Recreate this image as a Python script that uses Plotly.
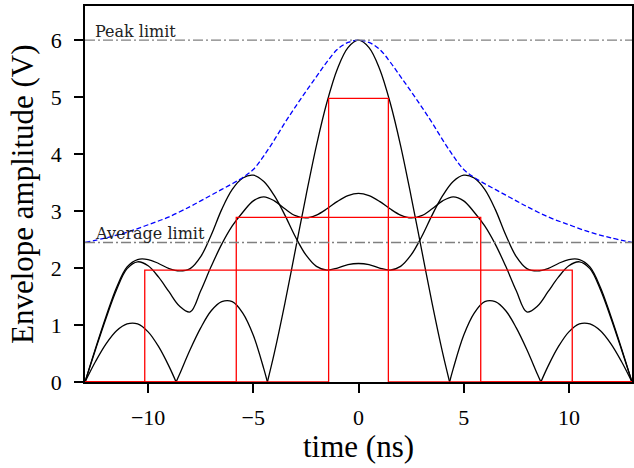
import plotly.graph_objects as go

# ---------------- data ----------------
time_grid = [-13.0, -12.5, -12.0, -11.5, -11.0, -10.5, -10.0, -9.5, -9.0, -8.5,
             -8.0, -7.5, -7.0, -6.5, -6.0, -5.5, -5.0, -4.5, -4.0, -3.5,
             -3.0, -2.5, -2.0, -1.5, -1.0, -0.5, 0.0, 0.5, 1.0, 1.5,
             2.0, 2.5, 3.0, 3.5, 4.0, 4.5, 5.0, 5.5, 6.0, 6.5,
             7.0, 7.5, 8.0, 8.5, 9.0, 9.5, 10.0, 10.5, 11.0, 11.5,
             12.0, 12.5, 13.0]

env_b = [0.0, 0.59, 1.15, 1.66, 2.02, 2.15, 2.15, 2.08, 1.99, 1.95,
         1.99, 2.20, 2.58, 3.03, 3.38, 3.58, 3.63, 3.52, 3.27, 2.93,
         2.55, 2.23, 2.03, 1.965, 2.00, 2.06, 2.08, 2.06, 2.00, 1.965,
         2.03, 2.23, 2.55, 2.93, 3.27, 3.52, 3.63, 3.58, 3.38, 3.03,
         2.58, 2.20, 1.99, 1.95, 1.99, 2.08, 2.15, 2.15, 2.02, 1.66,
         1.15, 0.59, 0.0]

env_c = [0.0, 0.57, 1.12, 1.62, 1.99, 2.11, 2.04, 1.84, 1.58, 1.33,
         1.23, 1.60, 2.03, 2.42, 2.74, 2.98, 3.18, 3.25, 3.18, 3.04,
         2.92, 2.88, 2.93, 3.04, 3.17, 3.27, 3.31, 3.27, 3.17, 3.04,
         2.93, 2.88, 2.92, 3.04, 3.18, 3.25, 3.18, 2.98, 2.74, 2.42,
         2.03, 1.60, 1.23, 1.33, 1.58, 1.84, 2.04, 2.11, 1.99, 1.62,
         1.12, 0.57, 0.0]

# in-phase envelope, lobes separated at its zeros (None = break)
env_a_time = [-13.0, -12.5, -12.0, -11.5, -11.0, -10.5, -10.0, -9.5, -9.0, -8.67, None,
              -8.67, -8.5, -8.0, -7.5, -7.0, -6.5, -6.0, -5.5, -5.0, -4.5, -4.33, None,
              -4.33, -4.0, -3.5, -3.0, -2.5, -2.0, -1.5, -1.0, -0.5, 0.0,
              0.5, 1.0, 1.5, 2.0, 2.5, 3.0, 3.5, 4.0, 4.33, None,
              4.33, 4.5, 5.0, 5.5, 6.0, 6.5, 7.0, 7.5, 8.0, 8.5, 8.67, None,
              8.67, 9.0, 9.5, 10.0, 10.5, 11.0, 11.5, 12.0, 12.5, 13.0]
env_a = [0.0, 0.36, 0.67, 0.90, 1.02, 1.02, 0.88, 0.62, 0.27, 0.0, None,
         0.0, 0.14, 0.57, 0.95, 1.25, 1.41, 1.41, 1.21, 0.82, 0.23, 0.0, None,
         0.0, 0.51, 1.38, 2.32, 3.26, 4.15, 4.91, 5.50, 5.87, 6.00,
         5.87, 5.50, 4.91, 4.15, 3.26, 2.32, 1.38, 0.51, 0.0, None,
         0.0, 0.23, 0.82, 1.21, 1.41, 1.41, 1.25, 0.95, 0.57, 0.14, 0.0, None,
         0.0, 0.27, 0.62, 0.88, 1.02, 1.02, 0.90, 0.67, 0.36, 0.0]

bound_time = [-13.0, -12.0, -11.0, -10.0, -9.0, -8.0, -7.5, -7.0, -6.5, -6.0,
              -5.5, -5.0, -4.5, -4.0, -3.5, -3.0, -2.5, -2.0, -1.5, -1.0,
              -0.5, 0.0, 0.5, 1.0, 1.5, 2.0, 2.5, 3.0, 3.5, 4.0,
              4.5, 5.0, 5.5, 6.0, 6.5, 7.0, 7.5, 8.0, 9.0, 10.0,
              11.0, 12.0, 13.0]
bound_env = [2.45, 2.53, 2.63, 2.76, 2.90, 3.08, 3.18, 3.28, 3.38, 3.48,
             3.59, 3.73, 3.97, 4.25, 4.55, 4.83, 5.10, 5.36, 5.62, 5.84,
             5.96, 6.00, 5.96, 5.84, 5.62, 5.36, 5.10, 4.83, 4.55, 4.25,
             3.97, 3.73, 3.59, 3.48, 3.38, 3.28, 3.18, 3.08, 2.90, 2.76,
             2.63, 2.53, 2.45]

rect_heights = [4.98, 2.89, 1.965]
rect_half_widths = [1.42, 5.81, 10.16]

peak_limit = 6.0
average_limit = 2.449
x_range = [-13.0, 13.0]
y_range = [0.0, 6.6]
x_ticks = [-10, -5, 0, 5, 10]
y_ticks = [0, 1, 2, 3, 4, 5, 6]

# ---------------- figure ----------------
fig = go.Figure()

LW = 1.3
for xs, ys in [(time_grid, env_b), (time_grid, env_c), (env_a_time, env_a)]:
    fig.add_trace(go.Scatter(x=xs, y=ys, mode="lines", connectgaps=False,
                             line=dict(color="black", width=LW, shape="spline"),
                             showlegend=False, hoverinfo="skip"))

for h, w in zip(rect_heights, rect_half_widths):
    fig.add_trace(go.Scatter(x=[x_range[0], -w, -w, w, w, x_range[1]],
                             y=[0, 0, h, h, 0, 0], mode="lines",
                             line=dict(color="#ff0000", width=LW),
                             showlegend=False, hoverinfo="skip"))

fig.add_trace(go.Scatter(x=bound_time, y=bound_env, mode="lines",
                         line=dict(color="#0000ff", width=LW, dash="5px,2.6px", shape="spline"),
                         showlegend=False, hoverinfo="skip"))

for lvl in [peak_limit, average_limit]:
    fig.add_trace(go.Scatter(x=x_range, y=[lvl, lvl], mode="lines",
                             line=dict(color="#808080", width=LW, dash="10px,3px,2px,3px"),
                             showlegend=False, hoverinfo="skip"))

small_font = dict(family="DejaVu Serif", size=16, color="#222222")
fig.add_annotation(x=-12.55, y=peak_limit, text="Peak limit", showarrow=False,
                   xanchor="left", yanchor="bottom", font=small_font, borderpad=0, yshift=-2)
fig.add_annotation(x=-12.55, y=average_limit, text="Average limit", showarrow=False,
                   xanchor="left", yanchor="bottom", font=small_font, borderpad=0, yshift=-2)

title_font = dict(family="Liberation Serif", size=31, color="black")
fig.add_annotation(xref="paper", yref="paper", x=0.5, y=0, yshift=-64,
                   text="time (ns)", showarrow=False, xanchor="center", yanchor="middle",
                   font=title_font, borderpad=0)
fig.add_annotation(xref="paper", yref="paper", x=0, xshift=-63, y=0.5,
                   text="Envelope amplitude (V)", showarrow=False, textangle=-90,
                   xanchor="center", yanchor="middle", font=title_font, borderpad=0)

tick_font = dict(family="Liberation Serif", size=22, color="black")
axis_common = dict(showgrid=False, zeroline=False, showline=True, mirror=True,
                   linecolor="black", linewidth=1.5, ticks="outside", ticklen=9,
                   tickwidth=1.5, tickcolor="black", tickfont=tick_font)
fig.update_xaxes(range=x_range, tickvals=x_ticks, ticklabelstandoff=6, **axis_common)
fig.update_yaxes(range=y_range, tickvals=y_ticks, ticklabelstandoff=8, **axis_common)

fig.update_layout(width=634, height=468, margin=dict(l=85, r=0, t=6, b=86),
                  plot_bgcolor="white", paper_bgcolor="white", showlegend=False)

fig.write_html("out.html")
